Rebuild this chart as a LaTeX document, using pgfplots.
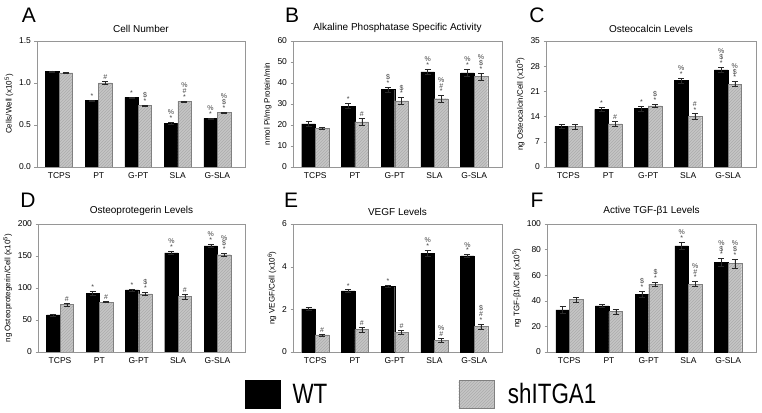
\documentclass[border=0pt]{standalone}
\usepackage{fontspec}
\setmainfont{Liberation Sans}
\newfontfamily\legfont[FakeStretch=0.8]{Liberation Sans}
\usepackage{pgfplots}
\pgfplotsset{compat=1.18}
\usepackage{pgfplotstable}
\usetikzlibrary{patterns}

\definecolor{shgray}{RGB}{198,198,198}
\definecolor{hatch}{RGB}{172,172,172}
\definecolor{frame}{RGB}{150,150,150}
\definecolor{errc}{RGB}{40,40,40}

% significance marks, stacked top to bottom
\newcommand\deflab[2]{\expandafter\def\csname lab#1\endcsname{#2}}
\deflab{n}{}
\deflab{s}{*}
\deflab{h}{\#}
\deflab{ds}{\$\\*}
\deflab{ps}{\%\\*}
\deflab{hs}{\#\\*}
\deflab{ph}{\%\\\#}
\deflab{phs}{\%\\\#\\*}
\deflab{pds}{\%\\\$\\*}
\deflab{dhs}{\$\\\#\\*}

\pgfplotsset{
  panel/.style={
    scale only axis, width=208pt, anchor=south west,
    xmin=-0.56, xmax=4.7, ymin=0,
    xtick={0,...,4}, xticklabels={TCPS,PT,G-PT,SLA,G-SLA},
    xtick style={draw=none},
    ytick pos=left, tick align=outside, major tick length=2.5pt,
    axis line style={frame}, ytick style={frame},
    tick label style={font=\fontsize{8.5}{9}\selectfont},
    /pgf/number format/assume math mode=true,
    title style={font=\fontsize{10}{11}\selectfont, yshift=-1pt},
    ylabel style={font=\fontsize{8}{9}\selectfont, yshift=-1pt},
  },
  sigmarks/.style={
    point meta=explicit symbolic,
    nodes near coords={\csname lab\pgfplotspointmeta\endcsname},
    nodes near coords style={anchor=south, align=center, text=darkgray,
      font=\fontsize{7}{5.8}\selectfont, inner sep=0pt,
      shift={(axis direction cs:0,\err)}, yshift=1.5pt},
    error bars/y dir=both, error bars/y explicit,
    error bars/error bar style={errc, line width=0.45pt},
    error bars/error mark options={rotate=90, mark size=3pt, errc, line width=0.45pt},
  },
  wt/.style={ybar, bar width=0.34, bar shift=0pt, fill=black, draw=black,
    sigmarks, visualization depends on={\thisrow{wte}\as\err}},
  sh/.style={ybar, bar width=0.34, bar shift=0pt, draw=gray, fill=shgray,
    postaction={pattern=north east lines, pattern color=hatch},
    sigmarks, visualization depends on={\thisrow{she}\as\err}},
}

\pgfplotstableread{
x wt wte wtl sh she shl
0 1.14 0.006 n 1.12 0.005 n
1 0.79 0.010 s 1.00 0.020 h
2 0.83 0.006 s 0.73 0.010 ds
3 0.52 0.012 ps 0.78 0.006 phs
4 0.58 0.006 ps 0.65 0.006 pds
}\tA
\pgfplotstableread{
x wt wte wtl sh she shl
0 20.5 1.3 n 18.3 0.5 n
1 29.0 1.2 s 21.5 1.5 h
2 37.0 1.2 ds 31.5 1.5 ds
3 45.3 1.3 ps 32.5 1.5 phs
4 44.8 1.8 ps 43.0 1.8 pds
}\tB
\pgfplotstableread{
x wt wte wtl sh she shl
0 11.3 0.6 n 11.3 0.7 n
1 16.0 0.5 s 12.0 0.6 h
2 16.3 0.7 s 17.0 0.4 ds
3 24.0 0.7 ps 14.0 0.8 hs
4 27.0 0.7 pds 23.0 0.7 pds
}\tC
\pgfplotstableread{
x wt wte wtl sh she shl
0 58 1.5 n 74 2 h
1 92 3 s 78 1 h
2 97 1.5 s 91 3 ds
3 155 3 ps 87 4 h
4 166 3 ps 152 2 pds
}\tD
\pgfplotstableread{
x wt wte wtl sh she shl
0 2.02 0.08 n 0.80 0.05 h
1 2.87 0.05 s 1.05 0.10 h
2 3.08 0.06 s 0.93 0.10 h
3 4.62 0.15 ps 0.55 0.10 ph
4 4.50 0.07 ps 1.20 0.12 dhs
}\tE
\pgfplotstableread{
x wt wte wtl sh she shl
0 33 2.5 n 41 2.0 n
1 36 1.0 n 31.5 2.0 n
2 45 2.5 ds 53 1.5 ds
3 83 3.0 ps 53 2.0 phs
4 70 3.0 pds 69 3.5 pds
}\tF

\newcommand\wtbars[1]{\addplot[wt] table[x expr=\thisrow{x}-0.17, y=wt, y error=wte, meta=wtl] {#1};}
\newcommand\shbars[1]{\addplot[sh] table[x expr=\thisrow{x}+0.17, y=sh, y error=she, meta=shl] {#1};}

\begin{document}
\begin{tikzpicture}[x=1pt, y=1pt]
\path[use as bounding box] (0,0) rectangle (762,412);

\begin{axis}[panel, at={(37pt,245pt)}, height=126pt,
  ymax=1.5, ytick={0,0.5,1,1.5},
  yticklabel style={/pgf/number format/.cd, fixed, fixed zerofill, precision=1},
  title={Cell Number}, ylabel={Cells/Well (x10\textsuperscript{5})}]
\wtbars{\tA}
\shbars{\tA}
\end{axis}

\begin{axis}[panel, at={(293pt,245pt)}, height=126pt, width=209pt,
  ymax=60, ytick={0,10,...,60},
  title={Alkaline Phosphatase Specific Activity}, ylabel={nmol Pi/mg Protein/min}]
\wtbars{\tB}
\shbars{\tB}
\end{axis}

\begin{axis}[panel, at={(546pt,245pt)}, height=126pt, width=210pt,
  ymax=35, ytick={0,7,...,35},
  title={Osteocalcin Levels}, ylabel={ng Osteocalcin/Cell (x10\textsuperscript{5})}]
\wtbars{\tC}
\shbars{\tC}
\end{axis}

\begin{axis}[panel, at={(38pt,60pt)}, height=128pt, width=207pt,
  ymax=200, ytick={0,50,...,200},
  title={Osteoprotegerin Levels}, ylabel={ng Osteoprotegerin/Cell (x10\textsuperscript{5})}]
\wtbars{\tD}
\shbars{\tD}
\end{axis}

\begin{axis}[panel, at={(293pt,60pt)}, height=128pt, width=209pt,
  ymax=6, ytick={0,2,...,6},
  title={VEGF Levels}, ylabel={ng VEGF/Cell (x10\textsuperscript{6})},
  legend columns=2,
  legend style={at={(-0.23,-0.22)}, anchor=north west, draw=none,
    inner sep=0pt, font=\legfont\fontsize{28}{28}\selectfont},
  legend image code/.code={\draw[#1] (0pt,-14pt) rectangle (35pt,14pt);}]
\wtbars{\tE}
\addlegendentry{\makebox[174pt][l]{\hspace{10pt}WT}}
\shbars{\tE}
\addlegendentry{\hspace{12pt}shITGA1}
\end{axis}

\begin{axis}[panel, at={(547pt,60pt)}, height=128pt, width=209pt,
  ymax=100, ytick={0,20,...,100},
  title={Active TGF-β1 Levels}, ylabel={ng TGF-β1/Cell (x10\textsuperscript{5})}]
\wtbars{\tF}
\shbars{\tF}
\end{axis}

\begin{scope}[every node/.style={font=\fontsize{21}{21}\selectfont, inner sep=0pt}]
\node at (29,397) {A};
\node at (292,397) {B};
\node at (537,397) {C};
\node at (28,212) {D};
\node at (291,212) {E};
\node at (537,212) {F};
\end{scope}
\end{tikzpicture}
\end{document}
